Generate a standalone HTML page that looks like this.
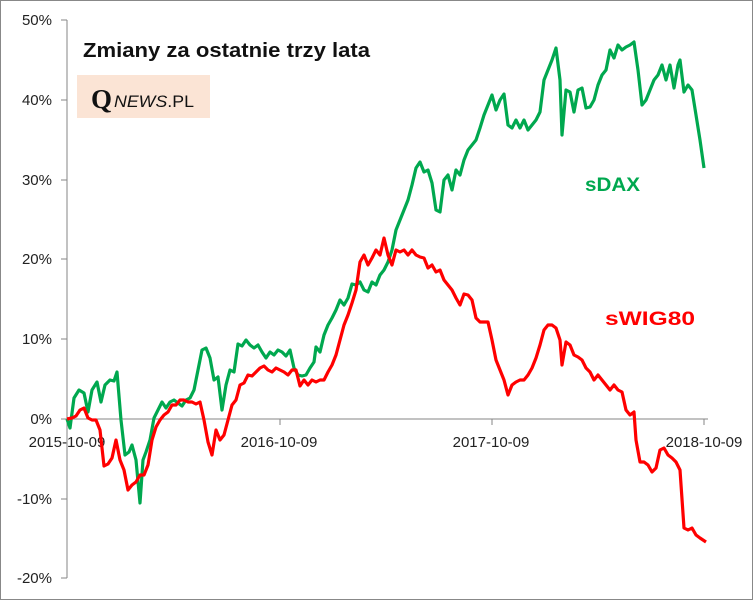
<!DOCTYPE html>
<html><head><meta charset="utf-8"><style>
body{margin:0;background:#fff}
svg{display:block;font-family:"Liberation Sans",sans-serif}
</style></head><body>
<svg width="753" height="600" viewBox="0 0 753 600">
<rect x="0.5" y="0.5" width="752" height="599" fill="#fff" stroke="#888"/>
<line x1="67" y1="20" x2="67" y2="578" stroke="#868686"/>
<line x1="67" y1="419" x2="708" y2="419" stroke="#868686"/>
<g stroke="#868686">
<line x1="61" y1="20" x2="67" y2="20"/><line x1="61" y1="100" x2="67" y2="100"/><line x1="61" y1="180" x2="67" y2="180"/><line x1="61" y1="259" x2="67" y2="259"/><line x1="61" y1="339" x2="67" y2="339"/><line x1="61" y1="419" x2="67" y2="419"/><line x1="61" y1="499" x2="67" y2="499"/><line x1="61" y1="578" x2="67" y2="578"/>
<line x1="280" y1="419" x2="280" y2="425"/><line x1="492" y1="419" x2="492" y2="425"/><line x1="704" y1="419" x2="704" y2="425"/>
</g>
<g font-size="15" fill="#222" text-anchor="end">
<text x="52" y="25">50%</text><text x="52" y="105">40%</text><text x="52" y="185">30%</text><text x="52" y="264">20%</text><text x="52" y="344">10%</text><text x="52" y="424">0%</text><text x="52" y="504">-10%</text><text x="52" y="583">-20%</text>
</g>
<g font-size="15" fill="#222" text-anchor="middle">
<text x="67" y="447">2015-10-09</text><text x="279" y="447">2016-10-09</text><text x="491" y="447">2017-10-09</text><text x="704" y="447">2018-10-09</text>
</g>
<text x="83" y="57" font-size="20" font-weight="bold" fill="#111" textLength="287" lengthAdjust="spacingAndGlyphs">Zmiany za ostatnie trzy lata</text>
<rect x="77" y="75" width="133" height="43" fill="#fbe4d5"/>
<text x="91" y="108" font-family="Liberation Serif,serif" font-size="27" font-weight="bold" fill="#111">Q</text>
<text x="114" y="107" font-size="17" fill="#111" textLength="80" lengthAdjust="spacingAndGlyphs"><tspan font-style="italic">NEWS</tspan>.PL</text>
<polyline fill="none" stroke="#00a84f" stroke-width="3.2" stroke-linejoin="round" points="67,419 70,428 74,398 79,390 84,393 88,412 92,390 97,382 101,402 105,385 110,380 114,381 117,372 121,420 125,455 129,452 132,445 136,460 140,503 143,460 146,452 150,440 154,418 158,410 162,402 166,408 170,402 174,400 178,403 182,406 186,400 190,398 194,390 198,370 202,350 206,348 210,358 214,380 218,377 222,410 226,385 230,370 234,372 238,344 242,346 246,340 250,345 254,348 258,345 262,352 266,358 270,352 274,355 278,350 282,352 286,356 290,350 294,368 298,375 302,376 306,375 310,368 314,362 316,347 320,352 324,335 328,325 332,318 336,310 340,300 344,305 348,298 352,284 356,285 360,282 364,290 368,292 372,282 376,285 380,275 384,270 388,262 392,250 396,230 400,220 404,210 408,200 412,185 416,168 420,162 424,172 428,170 432,183 436,210 440,212 444,180 448,175 452,190 456,170 460,175 464,160 468,150 472,145 476,140 480,128 484,115 488,105 492,95 496,110 500,100 504,94 508,125 512,128 516,120 520,128 524,120 528,130 532,125 536,120 540,112 544,80 548,70 552,60 556,48 560,80 562,135 566,90 570,92 574,112 578,90 582,88 586,108 590,107 594,100 598,85 602,75 606,70 610,50 614,58 618,45 622,50 626,47 630,45 634,42 638,70 642,105 646,100 650,90 654,80 658,75 662,65 666,80 670,65 674,88 678,65 680,60 684,92 688,85 692,90 696,115 700,140 704,168"/>
<polyline fill="none" stroke="#ff0000" stroke-width="3.2" stroke-linejoin="round" points="67,419 72,418 76,416 80,410 84,408 88,418 92,420 96,420 100,430 104,466 108,464 112,458 116,440 120,460 124,470 128,490 132,485 136,482 140,475 144,475 148,465 152,440 156,427 160,420 164,415 168,412 172,405 176,405 180,400 184,400 188,402 192,402 196,404 200,402 204,420 208,442 212,455 216,430 220,440 224,435 228,420 232,405 236,400 240,385 244,383 248,375 252,376 256,372 260,368 264,366 268,370 272,372 276,368 280,370 284,372 288,375 292,370 296,370 300,386 304,380 308,385 312,380 316,382 320,380 324,380 328,372 332,365 336,355 340,340 344,325 348,315 352,303 356,290 360,262 364,255 368,265 372,258 376,250 380,255 384,238 388,255 392,265 396,250 400,252 404,250 408,255 412,250 416,255 420,257 424,258 428,268 432,265 436,272 440,270 444,280 448,285 452,290 456,298 460,305 464,294 468,295 472,300 476,318 480,322 484,322 488,322 492,340 496,360 500,370 504,380 508,395 512,385 516,382 520,380 524,380 528,375 532,368 536,358 540,345 544,330 548,325 552,325 556,328 560,340 562,365 566,342 570,345 574,355 578,357 582,360 586,368 590,372 594,380 598,375 602,380 606,385 610,390 614,385 618,390 622,392 626,410 630,415 634,412 636,440 640,462 644,462 648,465 652,472 656,468 660,450 664,448 668,455 672,458 676,462 680,470 684,528 688,530 692,528 696,535 700,538 706,542"/>
<text x="585" y="191" font-size="19" font-weight="bold" fill="#00a84f" textLength="55" lengthAdjust="spacingAndGlyphs">sDAX</text>
<text x="605" y="325" font-size="19" font-weight="bold" fill="#ff0000" textLength="90" lengthAdjust="spacingAndGlyphs">sWIG80</text>
</svg>
</body></html>
